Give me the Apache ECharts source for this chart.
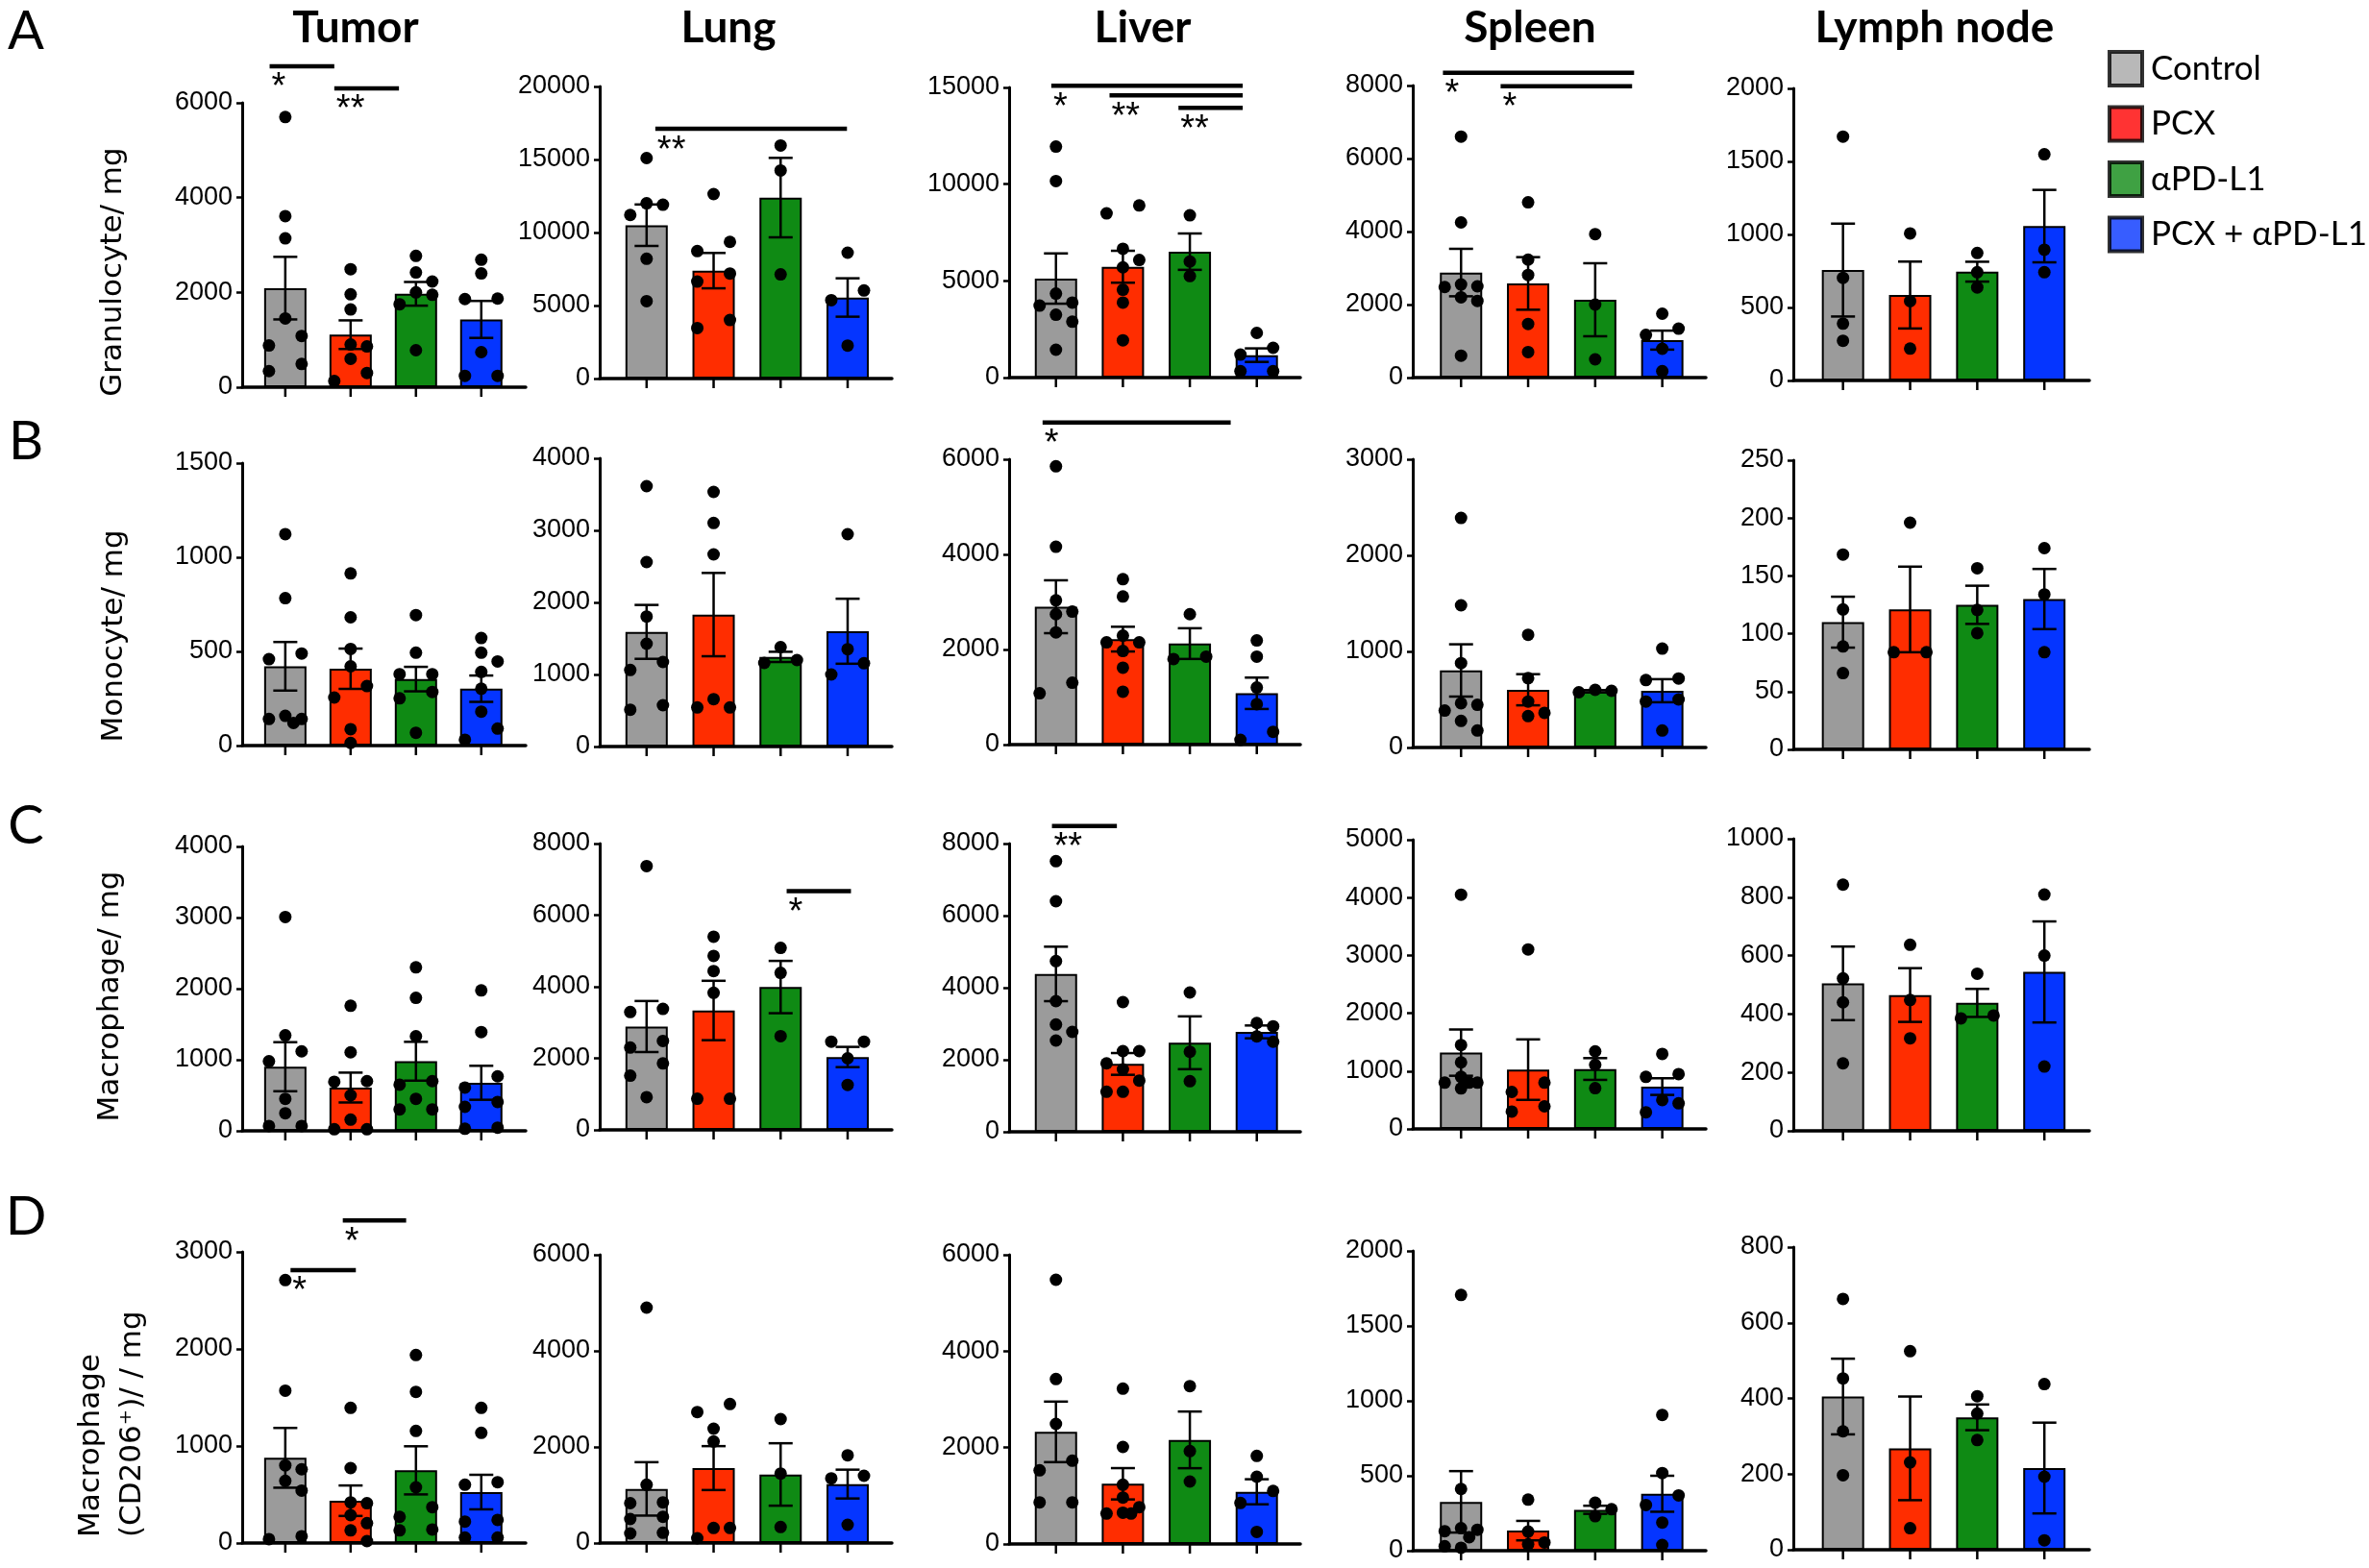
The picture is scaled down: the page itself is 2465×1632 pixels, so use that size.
<!DOCTYPE html>
<html>
<head>
<meta charset="utf-8">
<script src="https://cdn.jsdelivr.net/npm/echarts@6/dist/echarts.min.js"></script>
<style>
  html, body { margin: 0; padding: 0; background: #fff; }
  #chart { width: 2465px; height: 1632px; }
</style>
</head>
<body>
<div id="chart"></div>
<script>
// groups / panels
const groups = ['Control', 'PCX', 'αPD-L1', 'PCX + αPD-L1'];
const organs = ['Tumor', 'Lung', 'Liver', 'Spleen', 'Lymph node'];
const rowLetters = ['A', 'B', 'C', 'D'];
const rowNames = ['Granulocyte/ mg', 'Monocyte/ mg', 'Macrophage/ mg', 'Macrophage\n(CD206⁺)/ / mg'];

// y axis max and tick step, per row then organ
const yMax = [[6000, 20000, 15000, 8000, 2000], [1500, 4000, 6000, 3000, 250], [4000, 8000, 8000, 5000, 1000], [3000, 6000, 6000, 2000, 800]];
const yStep = [[2000, 5000, 5000, 2000, 500], [500, 1000, 2000, 1000, 50], [1000, 2000, 2000, 1000, 200], [1000, 2000, 2000, 500, 200]];

// A: granulocytes
const granMean = [[2090, 1108, 1970, 1430], [10500, 7390, 12390, 5550], [5120, 5730, 6510, 1160], [2877, 2579, 2132, 1026], [756, 585, 745, 1057]];
const granSem = [[660, 302, 250, 390], [1420, 1210, 2720, 1315], [1300, 825, 940, 350], [650, 720, 1000, 260], [318, 229, 68, 248]];
const granDots = [
  [[5700, 3610, 3140, 1450, 1080, 880, 490, 340], [2490, 1960, 1640, 900, 860, 600, 300, 130], [2770, 2420, 2230, 2000, 1950, 1750, 780], [2690, 2400, 1870, 1860, 740, 240, 240]],
  [[15100, 12000, 11900, 11200, 8200, 5300], [12630, 9360, 8730, 7190, 6640, 4010, 3460], [15960, 14250, 7130], [8620, 6030, 5370, 2260]],
  [[11940, 10160, 4340, 3880, 3720, 3250, 2890, 1440], [8900, 8490, 6660, 6080, 5700, 4540, 3880, 1930], [8390, 6000, 5250], [2310, 1540, 1190, 330, 330]],
  [[6600, 4250, 2550, 2500, 2480, 2200, 2100, 600], [4800, 3230, 2810, 1470, 700], [3930, 2000, 500], [1750, 1340, 1170, 790, 175]],
  [[1670, 703, 389, 272], [1007, 543, 218], [873, 741, 637], [1549, 895, 741]]
];
// [from group, to group, value, label]
const granSig = [
  [[-0.24, 0.75, 6770, '*'], [0.75, 1.74, 6305, '**']],
  [[0.13, 2.99, 17100, '**']],
  [[-0.07, 2.79, 15090, '*'], [0.80, 2.79, 14590, '**'], [1.83, 2.79, 13945, '**']],
  [[-0.27, 2.58, 8350, '*'], [0.59, 2.55, 7980, '*']],
  []
];

// B: monocytes
const monoMean = [[421, 408, 353, 302], [1591, 1831, 1244, 1600], [2899, 2218, 2124, 1079], [802, 601, 585, 591], [110, 121, 125, 130]];
const monoSem = [[129, 107, 65, 70], [374, 578, 71, 451], [556, 260, 323, 330], [272, 162, 12, 120], [22, 37, 16.5, 26]];
const monoDots = [
  [[1123, 783, 489, 459, 158, 141, 141, 120], [914, 681, 513, 421, 316, 255, 87, 14], [693, 493, 379, 379, 285, 251, 68], [571, 493, 447, 391, 302, 180, 90, 31]],
  [[3613, 2560, 1804, 1427, 1173, 1062, 573, 511], [3533, 3102, 2667, 658, 542, 542], [1380, 1200, 1160], [2947, 1351, 1156, 1000]],
  [[5852, 4160, 3033, 2797, 2743, 2360, 1301, 1079], [3478, 3114, 2292, 2150, 2150, 1968, 1618, 1112], [2743, 1850, 1800], [2190, 1850, 1200, 850, 270, 100]],
  [[2389, 1480, 878, 461, 444, 384, 277, 177], [1173, 722, 478, 361, 327], [600, 590, 575], [1029, 718, 702, 500, 478, 177]],
  [[168.5, 121, 89, 66], [196, 84, 84], [156.6, 120.6, 100.6], [174, 134, 84]]
];
const monoSig = [[], [], [[-0.2, 2.61, 6775, '*']], [], []];

// C: macrophages
const macMean = [[902, 609, 979, 676], [2888, 3336, 3991, 2036], [4382, 1884, 2471, 2773], [1319, 1025, 1036, 732], [505, 465, 438, 544]];
const macSem = [[345, 210, 273, 239], [713, 830, 731, 283], [756, 302, 733, 178], [400, 523, 188, 144], [126, 92, 48, 173]];
const macDots = [
  [[3008, 1344, 1118, 979, 450, 248, 68, 68], [1759, 1105, 699, 690, 500, 158, 23, 23], [2300, 1871, 1330, 699, 650, 451, 302, 302], [1975, 1389, 767, 609, 406, 338, 45, 30]],
  [[7372, 3381, 3292, 2484, 2300, 1857, 1516, 915], [5399, 4861, 4439, 3830, 870, 870], [5085, 4386, 2619], [2466, 2466, 2000, 1256]],
  [[7511, 6400, 4738, 3627, 2978, 2773, 2533], [3600, 2240, 2240, 1900, 1733, 1422, 1111, 1111], [3867, 2222, 1404], [3020, 2930, 2650, 2500]],
  [[4050, 1450, 1150, 900, 800, 800, 800, 700], [3104, 800, 640, 390, 300], [1341, 1109, 704], [1297, 948, 900, 499, 443, 288]],
  [[843, 522, 440, 231], [637, 448, 317], [538, 395, 385], [809, 600, 220]]
];
const macSig = [[], [[2.09, 3.05, 6670, '*']], [[-0.06, 0.91, 8490, '**']], [], []];

// D: CD206+ macrophages
const cd206Mean = [[878, 436, 749, 525], [1127, 1560, 1427, 1227], [2326, 1249, 2160, 1083], [326, 134, 273, 380], [405, 268, 350, 216]];
const cd206Sem = [[308, 157, 248, 178], [556, 457, 650, 300], [628, 325, 588, 260], [205, 65, 27, 120], [100, 137, 34, 120]];
const cd206Dots = [
  [[2710, 1570, 800, 760, 640, 540, 70, 40], [1393, 772, 419, 410, 287, 205, 130, 20], [1937, 1558, 1155, 574, 370, 270, 139, 130], [1393, 1135, 627, 601, 238, 221, 56, 56]],
  [[4900, 1213, 847, 830, 547, 500, 213, 200], [2893, 2727, 2380, 2113, 313, 313, 100], [2580, 1447, 333], [1827, 1400, 1347, 380]],
  [[5482, 3422, 2492, 1728, 1528, 864, 864], [3223, 2013, 1229, 963, 764, 650, 631, 631], [3276, 1927, 1296], [1827, 1395, 1100, 850, 250]],
  [[1706, 412, 150, 140, 130, 90, 30, 20], [341, 128, 55, 43], [320, 277, 230], [906, 518, 369, 305, 188, 38]],
  [[663, 453, 313, 197], [525, 231, 57], [406, 360, 290], [438, 193, 25]]
];
const cd206Sig = [[[0.08, 1.08, 2812, '*'], [0.88, 1.85, 3324, '*']], [], [], [], []];

const allMean = [granMean, monoMean, macMean, cd206Mean];
const allSem = [granSem, monoSem, macSem, cd206Sem];
const allDots = [granDots, monoDots, macDots, cd206Dots];
const allSig = [granSig, monoSig, macSig, cd206Sig];

// layout (pixels)
const barColors = ['#9b9b9b', '#ff2d00', '#0f8a14', '#0535ff'];
const legendColors = ['#a6a6a6', '#ff0000', '#0f8a14', '#0535ff'];
const colX = [252, 624, 1050, 1470, 1866];
const colW = [295, 304, 303, 305, 308];
const xMin = [-0.66, -0.70, -0.70, -0.72, -0.74];
const xMax = [3.68, 3.66, 3.65, 3.65, 3.67];
const panelTop = [[107, 90, 91, 89, 92], [482, 477, 478, 478, 479], [881, 878, 878, 874, 873], [1303, 1306, 1306, 1302, 1298]];
const panelBottom = [[403, 394, 393, 393, 396], [776, 777, 775, 778, 780], [1177, 1176, 1178, 1175, 1177], [1606, 1606, 1607, 1614, 1613]];
const titleX = [370, 758, 1189, 1592, 2013];
const letterY = [33, 460, 860, 1267];
const nameX = [118, 119, 115, 116];
const nameY = [283, 662, 1037, 1600];
const nameAlign = ['center', 'center', 'center', 'left'];

const DOT_D = 13;
const DOT_STEP = 17;

// spread dots that would overlap, GraphPad style
function swarmOffsets(ys) {
  const n = ys.length;
  const off = new Array(n).fill(0);
  const order = ys.map((y, i) => i).sort((a, b) => ys[a] - ys[b]);
  const clusters = [];
  let cur = [order[0]];
  for (let k = 1; k < n; k++) {
    const i = order[k];
    if (ys[i] - ys[cur[cur.length - 1]] < DOT_D) cur.push(i);
    else { clusters.push(cur); cur = [i]; }
  }
  clusters.push(cur);
  clusters.forEach(cl => {
    if (cl.length === 1) return;
    if (cl.length === 2) { off[cl[0]] = DOT_STEP; off[cl[1]] = -DOT_STEP; return; }
    const placed = [];
    const cands = [0, DOT_STEP, -DOT_STEP, DOT_STEP / 2, -DOT_STEP / 2];
    cl.forEach(i => {
      let best = 0, bestD = -1;
      for (const c of cands) {
        let d = Infinity;
        placed.forEach(p => { d = Math.min(d, Math.hypot(p.x - c, p.y - ys[i])); });
        if (d >= DOT_D) { best = c; bestD = d; break; }
        if (d > bestD) { bestD = d; best = c; }
      }
      off[i] = best;
      placed.push({ x: best, y: ys[i] });
    });
  });
  return off;
}

const grids = [], xAxes = [], yAxes = [], series = [], graphics = [];

for (let r = 0; r < 4; r++) {
  for (let c = 0; c < 5; c++) {
    const idx = r * 5 + c;
    const mean = allMean[r][c], sem = allSem[r][c], dots = allDots[r][c], sig = allSig[r][c];

    grids.push({ left: colX[c], top: panelTop[r][c], width: colW[c], height: panelBottom[r][c] - panelTop[r][c] });
    xAxes.push({
      gridIndex: idx, type: 'value', min: xMin[c], max: xMax[c],
      axisLine: { onZero: false, lineStyle: { color: '#000', width: 3.5 } },
      axisTick: { show: false }, axisLabel: { show: false }, splitLine: { show: false }
    });
    yAxes.push({
      gridIndex: idx, type: 'value', min: 0, max: yMax[r][c], interval: yStep[r][c],
      axisLine: { show: true, onZero: false, lineStyle: { color: '#000', width: 3 } },
      axisTick: { show: true, length: 6, lineStyle: { color: '#000', width: 2.5 } },
      axisLabel: { color: '#000', fontSize: 27, fontFamily: 'Liberation Sans', margin: 10, formatter: v => String(v) },
      splitLine: { show: false }
    });

    series.push({
      type: 'bar', xAxisIndex: idx, yAxisIndex: idx, barWidth: 44, z: 2, silent: true,
      itemStyle: { borderColor: '#000', borderWidth: 2 },
      data: mean.map((m, i) => ({ value: [i, m], itemStyle: { color: barColors[i] } }))
    });

    // error bars + x ticks
    series.push({
      type: 'custom', xAxisIndex: idx, yAxisIndex: idx, z: 3, silent: true,
      data: mean.map((m, i) => [i, m, sem[i]]),
      renderItem: (params, api) => {
        const i = api.value(0), m = api.value(1), s = api.value(2);
        const hi = api.coord([i, m + s]);
        const lo = api.coord([i, Math.max(m - s, 0)]);
        const base = api.coord([i, 0]);
        const st = { stroke: '#000', lineWidth: 2.5 };
        return {
          type: 'group', children: [
            { type: 'line', shape: { x1: hi[0], y1: hi[1], x2: lo[0], y2: lo[1] }, style: st },
            { type: 'line', shape: { x1: hi[0] - 12.5, y1: hi[1], x2: hi[0] + 12.5, y2: hi[1] }, style: st },
            { type: 'line', shape: { x1: lo[0] - 12.5, y1: lo[1], x2: lo[0] + 12.5, y2: lo[1] }, style: st },
            { type: 'line', shape: { x1: base[0], y1: base[1], x2: base[0], y2: base[1] + 10 }, style: st }
          ]
        };
      }
    });

    // individual animals
    const dotData = [];
    dots.forEach((vals, g) => vals.forEach((v, k) => dotData.push([g, v, k])));
    series.push({
      type: 'custom', xAxisIndex: idx, yAxisIndex: idx, z: 4, silent: true,
      data: dotData,
      renderItem: (params, api) => {
        const g = api.value(0), k = api.value(2);
        const ys = dots[g].map(v => api.coord([g, v])[1]);
        const off = swarmOffsets(ys);
        const p = api.coord([g, api.value(1)]);
        return { type: 'circle', shape: { cx: p[0] + off[k], cy: p[1], r: DOT_D / 2 }, style: { fill: '#000' } };
      }
    });

    // significance brackets
    if (sig.length) {
      series.push({
        type: 'custom', xAxisIndex: idx, yAxisIndex: idx, z: 5, silent: true, clip: false,
        data: sig.map(s => [s[0], s[1], s[2]]),
        renderItem: (params, api) => {
          const a = api.coord([api.value(0), api.value(2)]);
          const b = api.coord([api.value(1), api.value(2)]);
          return {
            type: 'group', children: [
              { type: 'line', shape: { x1: a[0], y1: a[1], x2: b[0], y2: b[1] }, style: { stroke: '#000', lineWidth: 4.5 } },
              { type: 'text', x: a[0] + 2, y: a[1] + 23, style: { text: sig[params.dataIndex][3], font: '38px "Liberation Sans"', fill: '#000', align: 'left', verticalAlign: 'middle' } }
            ]
          };
        }
      });
    }
  }
}

// legend carriers
groups.forEach((name, i) => {
  series.push({ type: 'scatter', name: name, xAxisIndex: 0, yAxisIndex: 0, data: [], itemStyle: { color: legendColors[i] } });
});

organs.forEach((o, c) => {
  graphics.push({ type: 'text', x: titleX[c], y: 29, style: { text: o, font: 'bold 46px Lato', fill: '#000', align: 'center', verticalAlign: 'middle' } });
});
rowLetters.forEach((l, r) => {
  graphics.push({ type: 'text', x: 27, y: letterY[r], style: { text: l, font: '56px Lato', fill: '#000', align: 'center', verticalAlign: 'middle' } });
  graphics.push({
    type: 'text', x: nameX[r], y: nameY[r], rotation: Math.PI / 2,
    style: { text: rowNames[r], font: '31px "DejaVu Sans"', fill: '#000', align: nameAlign[r], verticalAlign: 'middle', lineHeight: 43 }
  });
});

const chart = echarts.init(document.getElementById('chart'));
chart.setOption({
  animation: false,
  backgroundColor: '#fff',
  grid: grids,
  xAxis: xAxes,
  yAxis: yAxes,
  legend: {
    data: groups, orient: 'vertical', left: 2188, top: 47,
    itemWidth: 34, itemHeight: 35, itemGap: 18.5, icon: 'rect', selectedMode: false,
    itemStyle: { borderColor: '#000', borderWidth: 4 },
    textStyle: { fontFamily: 'Lato', fontSize: 35, color: '#000', padding: [0, 0, 0, 4] }
  },
  graphic: graphics,
  series: series
});
</script>
</body>
</html>
